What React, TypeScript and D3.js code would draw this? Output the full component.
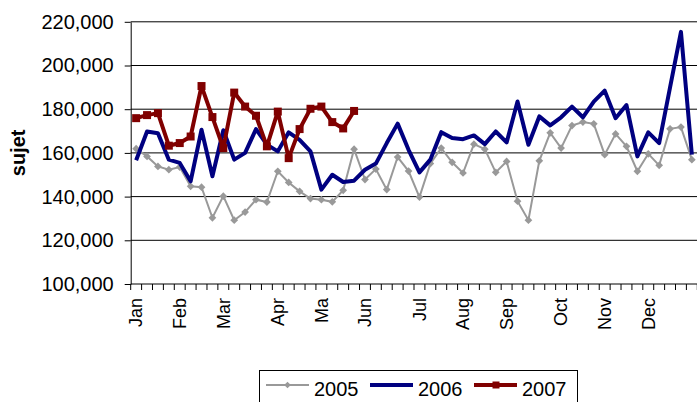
import React, { useEffect, useRef } from "react";
import * as d3 from "d3";

// weekly values, in thousands
const weeks2005 = [
  161.9, 158.4, 153.8, 152.3, 153.5, 144.7, 144.3, 130.3, 140.2, 129.2, 132.9, 138.6, 137.5,
  151.6, 146.5, 142.4, 139.1, 138.6, 137.6, 142.9, 161.7, 147.8, 152.6, 143.2, 158.1, 151.7,
  139.8, 155.1, 162.2, 155.7, 150.8, 164.0, 161.7, 151.1, 156.1, 137.9, 129.2, 156.4, 169.2,
  162.2, 172.5, 174.1, 173.3, 159.2, 168.7, 163.0, 151.6, 159.6, 154.3, 171.0, 171.8, 156.9,
];
const weeks2006 = [
  156.6, 169.8, 169.0, 156.9, 155.4, 147.0, 170.6, 149.3, 170.4, 156.9, 160.0, 170.9, 163.8,
  160.7, 169.4, 166.0, 160.7, 143.2, 150.0, 146.7, 147.3, 152.3, 155.1, 164.5, 173.4, 161.4,
  151.1, 156.9, 169.5, 166.8, 166.3, 168.0, 164.0, 169.8, 164.8, 183.5, 163.7, 176.7, 172.6,
  176.3, 181.2, 176.3, 183.5, 188.5, 175.9, 181.9, 158.4, 169.4, 164.5, 190.0, 215.4, 159.2,
];
const weeks2007 = [
  175.9, 177.3, 178.2, 163.3, 164.5, 167.5, 190.6, 176.4, 162.2, 187.6, 181.2, 177.0, 163.0,
  178.9, 157.6, 170.9, 180.2, 181.2, 174.1, 171.2, 179.2,
];

const monthNames = ["Jan", "Feb", "Mar", "Apr", "Ma", "Jun", "Jul", "Aug", "Sep", "Oct", "Nov", "Dec"];
const monthWeeks = [0, 4, 8, 13, 17, 21, 26, 30, 34, 39, 43, 47];
const yTicks = [100000, 120000, 140000, 160000, 180000, 200000, 220000];
const seriesNames = ["2005", "2006", "2007"];

const WEEKS = 52;
const FONT = "'Liberation Sans', Arial, sans-serif";

export default function App() {
  const svgRef = useRef<SVGSVGElement>(null);

  useEffect(() => {
    const width = 697;
    const height = 402;
    const margin = { top: 21.8, right: 0, bottom: 118, left: 130.7 };
    const svg = d3.select(svgRef.current);
    svg.selectAll("*").remove();

    const x = d3.scaleLinear().domain([0, WEEKS]).range([margin.left, width - margin.right + 0.3]);
    const y = d3.scaleLinear().domain([100000, 220000]).range([height - margin.bottom, margin.top]);
    const px = (i: number) => x(i + 0.5);

    // gridlines
    svg.append("g")
      .selectAll("line")
      .data(yTicks.slice(1))
      .join("line")
      .attr("x1", x(0))
      .attr("x2", x(WEEKS))
      .attr("y1", (d) => y(d))
      .attr("y2", (d) => y(d))
      .attr("stroke", "#000")
      .attr("stroke-width", 1);

    // y axis
    const yAxis = svg.append("g")
      .attr("transform", `translate(${margin.left},0)`)
      .call(d3.axisLeft(y).tickValues(yTicks).tickFormat(d3.format(",")).tickSizeInner(6).tickSizeOuter(0).tickPadding(11));
    yAxis.selectAll("text").style("font-family", FONT).style("font-size", "20px").attr("fill", "#000");
    yAxis.selectAll("line, path").attr("stroke", "#000");

    // x axis, ticks between the weeks
    const xAxis = svg.append("g");
    xAxis.append("line")
      .attr("x1", x(0))
      .attr("x2", x(WEEKS))
      .attr("y1", y(100000))
      .attr("y2", y(100000))
      .attr("stroke", "#000");
    xAxis.selectAll(".tick")
      .data(d3.range(WEEKS + 1))
      .join("line")
      .attr("class", "tick")
      .attr("x1", (d) => x(d))
      .attr("x2", (d) => x(d))
      .attr("y1", y(100000))
      .attr("y2", y(100000) + 6)
      .attr("stroke", "#000");
    xAxis.selectAll(".month")
      .data(monthNames)
      .join("text")
      .attr("class", "month")
      .attr("transform", (d, i) => `translate(${px(monthWeeks[i])},${y(100000) + 14}) rotate(-90)`)
      .attr("dy", "0.35em")
      .style("text-anchor", "end")
      .style("font-family", FONT)
      .style("font-size", "18px")
      .text((d) => d);

    svg.append("text")
      .attr("transform", `translate(18,${(y(100000) + y(220000)) / 2}) rotate(-90)`)
      .attr("dy", "0.35em")
      .style("text-anchor", "middle")
      .style("font-family", FONT)
      .style("font-size", "20px")
      .style("font-weight", "bold")
      .text("sujet");

    const line = d3.line<number>()
      .x((d, i) => px(i))
      .y((d) => y(d * 1000));

    const diamond = d3.symbol(d3.symbolSquare, 30)();
    const square = d3.symbol(d3.symbolSquare, 64)();

    // 2005
    svg.append("path")
      .datum(weeks2005)
      .attr("d", line)
      .attr("fill", "none")
      .attr("stroke", "#999999")
      .attr("stroke-width", 2);
    svg.append("g")
      .selectAll("path")
      .data(weeks2005)
      .join("path")
      .attr("d", diamond)
      .attr("transform", (d, i) => `translate(${px(i)},${y(d * 1000)}) rotate(45)`)
      .attr("fill", "#999999");

    // 2006
    svg.append("path")
      .datum(weeks2006)
      .attr("d", line)
      .attr("fill", "none")
      .attr("stroke", "#000080")
      .attr("stroke-width", 4)
      .attr("stroke-linejoin", "round");

    // 2007
    svg.append("path")
      .datum(weeks2007)
      .attr("d", line)
      .attr("fill", "none")
      .attr("stroke", "#800000")
      .attr("stroke-width", 4)
      .attr("stroke-linejoin", "round");
    svg.append("g")
      .selectAll("path")
      .data(weeks2007)
      .join("path")
      .attr("d", square)
      .attr("transform", (d, i) => `translate(${px(i)},${y(d * 1000)})`)
      .attr("fill", "#800000");

    // legend
    const legend = svg.append("g");
    legend.append("rect")
      .attr("x", 259.5)
      .attr("y", 370.5)
      .attr("width", 318)
      .attr("height", 40)
      .attr("fill", "#fff")
      .attr("stroke", "#000");
    const colors = ["#999999", "#000080", "#800000"];
    const widths = [2, 4, 4];
    seriesNames.forEach((name, k) => {
      const lx = 266 + k * 104;
      legend.append("line")
        .attr("x1", lx)
        .attr("x2", lx + 43)
        .attr("y1", 385)
        .attr("y2", 385)
        .attr("stroke", colors[k])
        .attr("stroke-width", widths[k]);
      if (k === 0) {
        legend.append("path")
          .attr("d", d3.symbol(d3.symbolSquare, 22)())
          .attr("transform", `translate(${lx + 21.5},385) rotate(45)`)
          .attr("fill", colors[k]);
      }
      if (k === 2) {
        legend.append("path")
          .attr("d", d3.symbol(d3.symbolSquare, 49)())
          .attr("transform", `translate(${lx + 22},385)`)
          .attr("fill", colors[k]);
      }
      legend.append("text")
        .attr("x", lx + 48)
        .attr("y", 396)
        .style("font-family", FONT)
        .style("font-size", "20px")
        .text(name);
    });
  }, []);

  return (
    <svg
      ref={svgRef}
      width={697}
      height={402}
      style={{ position: "absolute", left: 0, top: 0, background: "#fff" }}
    />
  );
}
